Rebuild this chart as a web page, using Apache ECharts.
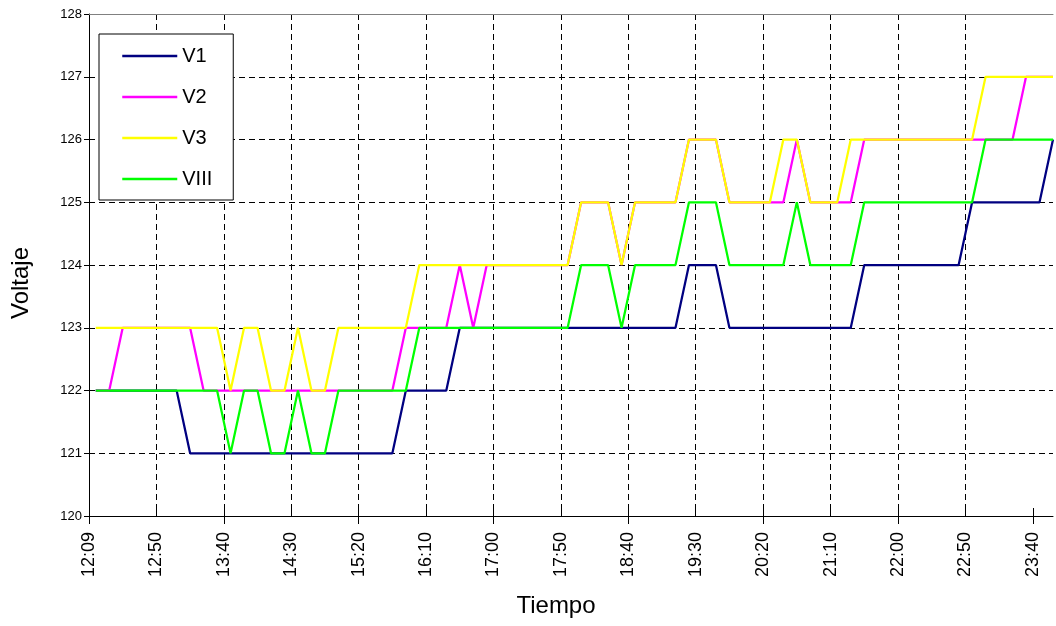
<!DOCTYPE html>
<html><head><meta charset="utf-8">
<script src="https://cdn.jsdelivr.net/npm/echarts@6/dist/echarts.min.js"></script>
<style>html,body{margin:0;padding:0;background:#fff}#c{width:1056px;height:626px}</style>
</head><body><div id="c"></div>
<script>
// Tick labels (every 5 samples)
const tickLabels = ['12:09','12:50','13:40','14:30','15:20','16:10','17:00','17:50','18:40','19:30','20:20','21:10','22:00','22:50','23:40'];
const seriesNames = ['V1','V2','V3','VIII'];

const V1 = [
122,122,122,122,122,122,122,121,121,121,
121,121,121,121,121,121,121,121,121,121,
121,121,121,122,122,122,122,123,123,123,
123,123,123,123,123,123,123,123,123,123,
123,123,123,123,124,124,124,123,123,123,
123,123,123,123,123,123,123,124,124,124,
124,124,124,124,124,125,125,125,125,125,
125,126];
const V2 = [
122,122,123,123,123,123,123,123,122,122,
122,122,122,122,122,122,122,122,122,122,
122,122,122,123,123,123,123,124,123,124,
124,124,124,124,124,124,125,125,125,124,
125,125,125,125,126,126,126,125,125,125,
125,125,126,125,125,125,125,126,126,126,
126,126,126,126,126,126,126,126,126,127,
127,127];
const V3 = [
123,123,123,123,123,123,123,123,123,123,
122,123,123,122,122,123,122,122,123,123,
123,123,123,123,124,124,124,124,124,124,
124,124,124,124,124,124,125,125,125,124,
125,125,125,125,126,126,126,125,125,125,
125,126,126,125,125,125,126,126,126,126,
126,126,126,126,126,126,127,127,127,127,
127,127];
const VIII = [
122,122,122,122,122,122,122,122,122,122,
121,122,122,121,121,122,121,121,122,122,
122,122,122,122,123,123,123,123,123,123,
123,123,123,123,123,123,124,124,124,123,
124,124,124,124,125,125,125,124,124,124,
124,124,125,124,124,124,124,125,125,125,
125,125,125,125,125,125,126,126,126,126,
126,126];

const FONT = '"Liberation Sans", Arial, sans-serif';
const colors = ['#000080','#FF00FF','#FFFF00','#00FF00'];
const allData = [V1, V2, V3, VIII];
const STEP = 5; // samples per label
const labelVals = tickLabels.map((_, k) => k * STEP);
const crossVals = labelVals.filter((_, k) => k % 2 === 0);
const XMAX = V1.length - 0.5;

const chart = echarts.init(document.getElementById('c'), null, {renderer: 'canvas'});
const dash = {color: '#000', type: [6, 4], width: 1};

chart.setOption({
  animation: false,
  backgroundColor: '#fff',
  grid: {left: 89, right: 3, top: 14, bottom: 110, containLabel: false, outerBoundsMode: 'none'},
  xAxis: [
    {
      type: 'value', position: 'bottom', min: 0, max: XMAX, interval: STEP,
      axisLine: {show: true, onZero: false, lineStyle: {color: '#000', width: 1}},
      axisTick: {show: true, inside: true, length: 8, customValues: labelVals, lineStyle: {color: '#000'}},
      axisLabel: {customValues: labelVals, rotate: 90, margin: 16, fontSize: 18, color: '#000', fontFamily: FONT,
        formatter: v => { const k = Math.round(v / STEP); return tickLabels[k] !== undefined ? tickLabels[k] : ''; }},
      splitLine: {show: true, showMaxLine: false, lineStyle: dash}
    },
    {
      type: 'value', position: 'bottom', min: 0, max: XMAX, interval: STEP * 2,
      axisLine: {show: false, onZero: false},
      axisTick: {show: true, inside: false, length: 8, customValues: crossVals, lineStyle: {color: '#000'}},
      axisLabel: {show: false},
      splitLine: {show: false}
    },
    {
      type: 'value', position: 'top', min: 0, max: XMAX,
      axisLine: {show: true, onZero: false, lineStyle: {color: '#808080', width: 1}},
      axisTick: {show: false}, axisLabel: {show: false}, splitLine: {show: false}
    }
  ],
  yAxis: {
    type: 'value', min: 120, max: 128, interval: 1,
    axisLine: {show: true, onZero: false, lineStyle: {color: '#000', width: 1}},
    axisTick: {show: true, inside: false, length: 5, lineStyle: {color: '#000'}},
    axisLabel: {fontSize: 13, color: '#000', fontFamily: FONT, margin: 7},
    splitLine: {show: true, showMaxLine: false, lineStyle: dash}
  },
  legend: {
    orient: 'vertical', left: 99, top: 34,
    padding: [12, 21, 11, 22], itemGap: 21, itemWidth: 55, itemHeight: 20,
    backgroundColor: '#fff', borderColor: '#000', borderWidth: 1, borderRadius: 0,
    itemStyle: {opacity: 0, borderWidth: 0},
    lineStyle: {width: 2.5},
    textStyle: {fontSize: 20, fontFamily: FONT, color: '#000', lineHeight: 20},
    data: seriesNames
  },
  graphic: [
    {type: 'text', x: 556, y: 606, style: {text: 'Tiempo', fontSize: 24, fontFamily: FONT, fill: '#000', align: 'center', verticalAlign: 'middle'}},
    {type: 'text', x: 21, y: 283, rotation: Math.PI / 2, style: {text: 'Voltaje', fontSize: 24, fontFamily: FONT, fill: '#000', align: 'center', verticalAlign: 'middle'}}
  ],
  series: seriesNames.map((name, s) => ({
    name, type: 'line', xAxisIndex: 0, symbol: 'none', showSymbol: false,
    color: colors[s],
    lineStyle: {color: colors[s], width: 2.25},
    data: allData[s].map((v, i) => [i + 0.5, v])
  }))
});
</script></body></html>
